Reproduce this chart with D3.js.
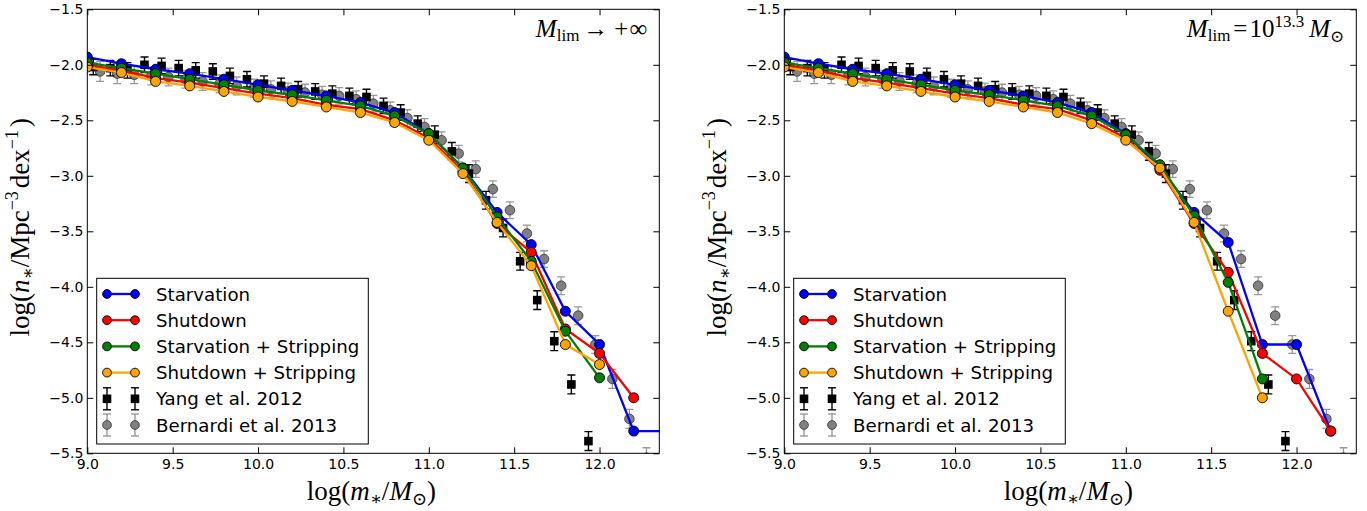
<!DOCTYPE html>
<html><head><meta charset="utf-8">
<script src="https://cdn.jsdelivr.net/npm/d3@7"></script>
<style>
body{margin:0;background:#fff;}
svg{display:block;}
.tick text{font-family:"DejaVu Sans";font-size:14px;fill:#000;}
.math{font-family:"Liberation Serif","DejaVu Serif",serif;fill:#000;}
</style></head>
<body><svg id="c" width="1367" height="511"></svg>
<script>
// ---------- data ----------
const massBins = [9.0,9.2,9.4,9.6,9.8,10.0,10.2,10.4,10.6,10.8,11.0,11.2,11.4,11.6,11.8,12.0,12.2,12.4];

const starvL = [-1.93,-1.99,-2.04,-2.08,-2.13,-2.18,-2.23,-2.28,-2.34,-2.43,-2.62,-2.93,-3.33,-3.62,-4.22,-4.52,-5.30,-5.30];
const shutL  = [-2.00,-2.05,-2.12,-2.16,-2.21,-2.26,-2.30,-2.36,-2.40,-2.50,-2.66,-2.96,-3.43,-3.69,-4.38,-4.60,-5.00,null];
const starvStripL = [-1.98,-2.03,-2.08,-2.13,-2.18,-2.23,-2.27,-2.32,-2.37,-2.46,-2.62,-2.93,-3.37,-3.77,-4.40,-4.82,null,null];
const shutStripL  = [-2.02,-2.07,-2.15,-2.19,-2.24,-2.29,-2.33,-2.38,-2.43,-2.52,-2.68,-2.98,-3.42,-3.81,-4.52,-4.70,null,null];

const starvR = [-1.93,-1.99,-2.04,-2.08,-2.13,-2.18,-2.23,-2.28,-2.34,-2.43,-2.62,-2.93,-3.33,-3.60,-4.52,-4.52,-5.30,null];
const shutR  = [-2.00,-2.05,-2.12,-2.16,-2.21,-2.26,-2.30,-2.36,-2.40,-2.50,-2.66,-2.95,-3.43,-3.87,-4.60,-4.83,-5.30,null];
const starvStripR = [-1.98,-2.03,-2.08,-2.13,-2.18,-2.23,-2.27,-2.32,-2.37,-2.46,-2.63,-2.90,-3.36,-3.96,-4.83,null,null,null];
const shutStripR  = [-2.02,-2.07,-2.15,-2.19,-2.24,-2.29,-2.33,-2.38,-2.43,-2.53,-2.68,-2.93,-3.42,-4.22,-5.00,null,null,null];

const yangX = [9.035,9.135,9.235,9.335,9.435,9.535,9.635,9.735,9.835,9.935,10.035,10.135,10.235,10.335,10.435,10.535,10.635,10.735,10.835,10.935,11.035,11.135,11.235,11.335,11.435,11.535,11.635,11.735,11.835,11.935];
const yangY = [-2.02,-2.03,-2.05,-2.00,-2.01,-2.03,-2.05,-2.06,-2.10,-2.13,-2.17,-2.19,-2.22,-2.24,-2.26,-2.28,-2.29,-2.37,-2.43,-2.53,-2.63,-2.78,-2.98,-3.22,-3.47,-3.77,-4.12,-4.49,-4.88,-5.39];
const yangErr = [0.07,0.07,0.07,0.07,0.07,0.07,0.07,0.07,0.07,0.07,0.07,0.07,0.07,0.07,0.07,0.07,0.07,0.07,0.07,0.07,0.08,0.08,0.08,0.08,0.08,0.08,0.085,0.085,0.085,0.085];

const bernX = [9.075,9.175,9.275,9.375,9.475,9.575,9.675,9.775,9.875,9.975,10.075,10.175,10.275,10.375,10.475,10.575,10.675,10.775,10.875,10.975,11.075,11.175,11.275,11.375,11.475,11.575,11.675,11.775,11.875,11.975,12.075,12.175,12.275];
const bernY = [-2.06,-2.08,-2.09,-2.10,-2.11,-2.13,-2.15,-2.17,-2.19,-2.21,-2.22,-2.24,-2.25,-2.27,-2.28,-2.31,-2.35,-2.41,-2.48,-2.56,-2.68,-2.80,-2.94,-3.12,-3.31,-3.52,-3.75,-3.99,-4.26,-4.52,-4.83,-5.19,-5.54];
const bernErr = [0.09,0.09,0.08,0.08,0.08,0.08,0.08,0.08,0.08,0.08,0.075,0.075,0.075,0.075,0.075,0.075,0.075,0.075,0.075,0.075,0.075,0.075,0.075,0.075,0.075,0.075,0.075,0.08,0.08,0.08,0.085,0.085,0.09];

const xTicks = [9.0,9.5,10.0,10.5,11.0,11.5,12.0];
const yTicks = [-1.5,-2.0,-2.5,-3.0,-3.5,-4.0,-4.5,-5.0,-5.5];

const seriesNames = ["Starvation","Shutdown","Starvation + Stripping","Shutdown + Stripping"];
const seriesColors = ["#0000ff","#ff0000","#008000","#ffa500"];
const obsNames = ["Yang et al. 2012","Bernardi et al. 2013"];

// ---------- drawing ----------
const svg = d3.select("#c");
const W = 572, H = 444, TOP = 9.3;
const panels = [
  {x0:87.3, models:[starvL,shutL,starvStripL,shutStripL], ann:"left"},
  {x0:784.3, models:[starvR,shutR,starvStripR,shutStripR], ann:"right"}
];

panels.forEach((p,pi)=>{
  const x = d3.scaleLinear().domain([9.0,12.35]).range([p.x0,p.x0+W]);
  const y = d3.scaleLinear().domain([-5.5,-1.5]).range([TOP+H,TOP]);
  const g = svg.append("g");
  const clipId = "clip"+pi;
  svg.append("clipPath").attr("id",clipId).append("rect")
     .attr("x",p.x0).attr("y",TOP).attr("width",W).attr("height",H);
  const data = g.append("g").attr("clip-path",`url(#${clipId})`);

  // Bernardi
  const bern = bernX.map((v,i)=>({x:v,y:bernY[i],e:bernErr[i]}));
  const bg = data.append("g");
  bern.forEach(d=>{
    const cx=x(d.x), yt=y(d.y+d.e), yb=y(d.y-d.e);
    bg.append("line").attr("x1",cx).attr("x2",cx).attr("y1",yt).attr("y2",yb).attr("stroke","#999").attr("stroke-width",1.3);
    bg.append("line").attr("x1",cx-4).attr("x2",cx+4).attr("y1",yt).attr("y2",yt).attr("stroke","#999").attr("stroke-width",1.3);
    bg.append("line").attr("x1",cx-4).attr("x2",cx+4).attr("y1",yb).attr("y2",yb).attr("stroke","#999").attr("stroke-width",1.3);
  });
  bg.selectAll("circle").data(bern).join("circle")
    .attr("cx",d=>x(d.x)).attr("cy",d=>y(d.y)).attr("r",4.8)
    .attr("fill","#808080").attr("stroke","#333").attr("stroke-width",0.8);

  // Yang
  const yang = yangX.map((v,i)=>({x:v,y:yangY[i],e:yangErr[i]}));
  const yg = data.append("g");
  yang.forEach(d=>{
    const cx=x(d.x), yt=y(d.y+d.e), yb=y(d.y-d.e);
    yg.append("line").attr("x1",cx).attr("x2",cx).attr("y1",yt).attr("y2",yb).attr("stroke","#000").attr("stroke-width",1.4);
    yg.append("line").attr("x1",cx-4).attr("x2",cx+4).attr("y1",yt).attr("y2",yt).attr("stroke","#000").attr("stroke-width",1.4);
    yg.append("line").attr("x1",cx-4).attr("x2",cx+4).attr("y1",yb).attr("y2",yb).attr("stroke","#000").attr("stroke-width",1.4);
  });
  yg.selectAll("rect").data(yang).join("rect")
    .attr("x",d=>x(d.x)-4.3).attr("y",d=>y(d.y)-4.3).attr("width",8.6).attr("height",8.6).attr("fill","#000");

  // models
  p.models.forEach((arr,si)=>{
    const pts = massBins.map((m,i)=>({x:m,y:arr[i]})).filter(d=>d.y!==null);
    const line = d3.line().x(d=>x(d.x)).y(d=>y(d.y));
    data.append("path").datum(pts).attr("d",line).attr("fill","none")
      .attr("stroke",seriesColors[si]).attr("stroke-width",2.3);
    data.append("g").selectAll("circle").data(pts).join("circle")
      .attr("cx",d=>x(d.x)).attr("cy",d=>y(d.y)).attr("r",5)
      .attr("fill",seriesColors[si]).attr("stroke","#000").attr("stroke-width",0.9);
  });

  // axes
  const fmt = d3.format(".1f");
  const ax = (gen,tr)=>{
    const a = g.append("g").attr("transform",tr).call(gen);
    a.select(".domain").remove();
    a.selectAll(".tick line").attr("stroke","#000").attr("stroke-width",1);
    return a;
  };
  ax(d3.axisBottom(x).tickValues(xTicks).tickFormat(fmt).tickSize(-6).tickPadding(6),`translate(0,${TOP+H})`);
  ax(d3.axisTop(x).tickValues(xTicks).tickFormat("").tickSize(-6),`translate(0,${TOP})`);
  ax(d3.axisLeft(y).tickValues(yTicks).tickFormat(fmt).tickSize(-6).tickPadding(4),`translate(${p.x0},0)`);
  ax(d3.axisRight(y).tickValues(yTicks).tickFormat("").tickSize(-6),`translate(${p.x0+W},0)`);
  g.append("rect").attr("x",p.x0).attr("y",TOP).attr("width",W).attr("height",H)
    .attr("fill","none").attr("stroke","#000").attr("stroke-width",1);

  // axis labels
  const xl = g.append("text").attr("class","math").attr("x",p.x0+W/2-2).attr("y",500)
    .attr("text-anchor","middle").attr("font-size",27);
  xl.append("tspan").text("log(");
  xl.append("tspan").attr("font-style","italic").text("m");
  xl.append("tspan").attr("font-size",18).attr("dy",5).text("∗");
  xl.append("tspan").attr("dy",-5).text("/");
  xl.append("tspan").attr("font-style","italic").text("M");
  xl.append("tspan").attr("font-size",18).attr("dy",5).text("⊙");
  xl.append("tspan").attr("dy",-5).text(")");

  const yl = g.append("text").attr("class","math")
    .attr("transform",`translate(${p.x0-58},${TOP+H/2-4}) rotate(-90)`)
    .attr("text-anchor","middle").attr("font-size",27);
  yl.append("tspan").text("log(");
  yl.append("tspan").attr("font-style","italic").text("n");
  yl.append("tspan").attr("font-size",18).attr("dy",5).text("∗");
  yl.append("tspan").attr("dy",-5).text("/Mpc");
  yl.append("tspan").attr("font-size",18).attr("dy",-11).text("−3");
  yl.append("tspan").attr("dy",11).attr("dx",3).text("dex");
  yl.append("tspan").attr("font-size",18).attr("dy",-11).text("−1");
  yl.append("tspan").attr("dy",11).attr("dx",3).text(")");

  // annotation
  const an = g.append("text").attr("class","math").attr("x",p.x0+W-12).attr("y",37)
    .attr("text-anchor","end").attr("font-size",25);
  if(p.ann==="left"){
    an.append("tspan").attr("font-style","italic").text("M");
    an.append("tspan").attr("font-size",17).attr("dy",4).text("lim");
    an.append("tspan").attr("dy",-4).attr("dx",4).text("→");
    an.append("tspan").attr("dx",6).text("+");
    an.append("tspan").attr("dx",1).text("∞");
  } else {
    an.append("tspan").attr("font-style","italic").text("M");
    an.append("tspan").attr("font-size",17).attr("dy",4).text("lim");
    an.append("tspan").attr("dy",-4).attr("dx",3).text("=");
    an.append("tspan").attr("dx",2).text("10");
    an.append("tspan").attr("font-size",17).attr("dy",-10).text("13.3");
    an.append("tspan").attr("dy",10).attr("dx",5).attr("font-style","italic").text("M");
    an.append("tspan").attr("font-size",17).attr("dy",5).text("⊙");
  }

  // legend
  const lx = p.x0+9.4, ly = 278.3;
  const lg = g.append("g");
  lg.append("rect").attr("x",lx).attr("y",ly).attr("width",271.6).attr("height",165.7)
    .attr("fill","#fff").attr("stroke","#000").attr("stroke-width",1);
  const rowY = i=>ly+15.7+i*26.2;
  const m1 = lx+10.3, m2 = lx+38.3, tx = lx+59.3;
  seriesNames.forEach((nm,i)=>{
    const yy = rowY(i);
    lg.append("line").attr("x1",m1).attr("x2",m2).attr("y1",yy).attr("y2",yy).attr("stroke",seriesColors[i]).attr("stroke-width",2.3);
    [m1,m2].forEach(mx=>lg.append("circle").attr("cx",mx).attr("cy",yy).attr("r",4.4)
      .attr("fill",seriesColors[i]).attr("stroke","#000").attr("stroke-width",0.9));
    lg.append("text").attr("x",tx).attr("y",yy+6.5).attr("font-family","DejaVu Sans").attr("font-size",18.2).text(nm);
  });
  obsNames.forEach((nm,j)=>{
    const i = j+4, yy = rowY(i);
    const col = j===0?"#000":"#999";
    [m1,m2].forEach(mx=>{
      lg.append("line").attr("x1",mx).attr("x2",mx).attr("y1",yy-11).attr("y2",yy+11).attr("stroke",col).attr("stroke-width",1.4);
      lg.append("line").attr("x1",mx-4).attr("x2",mx+4).attr("y1",yy-11).attr("y2",yy-11).attr("stroke",col).attr("stroke-width",1.4);
      lg.append("line").attr("x1",mx-4).attr("x2",mx+4).attr("y1",yy+11).attr("y2",yy+11).attr("stroke",col).attr("stroke-width",1.4);
      if(j===0) lg.append("rect").attr("x",mx-4.3).attr("y",yy-4.3).attr("width",8.6).attr("height",8.6).attr("fill","#000");
      else lg.append("circle").attr("cx",mx).attr("cy",yy).attr("r",4.4).attr("fill","#808080").attr("stroke","#333").attr("stroke-width",0.8);
    });
    lg.append("text").attr("x",tx).attr("y",yy+6.5).attr("font-family","DejaVu Sans").attr("font-size",18.2).text(nm);
  });
});
</script></body></html>
